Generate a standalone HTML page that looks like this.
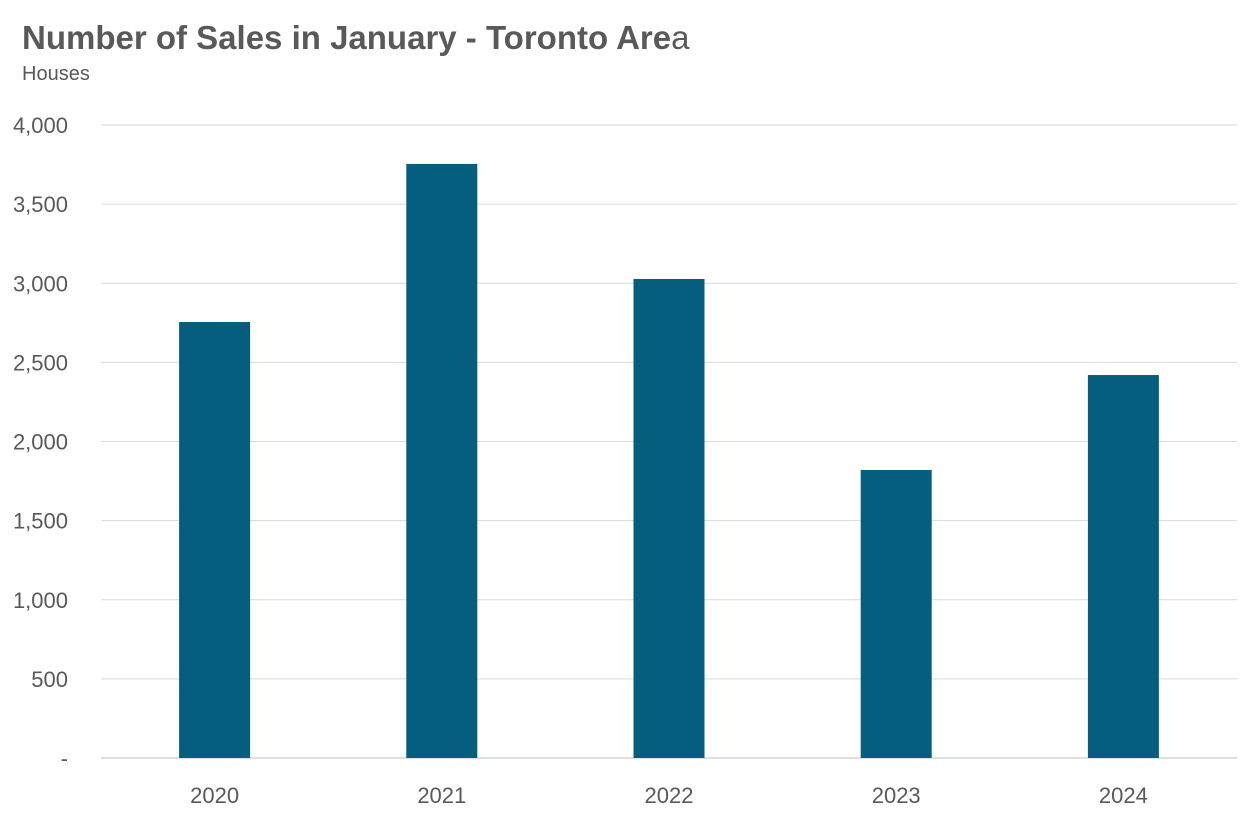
<!DOCTYPE html>
<html><head><meta charset="utf-8"><style>
body{margin:0;background:#fff;width:1249px;height:820px;overflow:hidden;font-family:"Liberation Sans",Arial,sans-serif;}
</style></head><body>
<svg width="1249" height="820" xmlns="http://www.w3.org/2000/svg">
<text x="22" y="49" font-size="33" font-weight="bold" fill="#595959">Number of Sales in January - Toronto Are<tspan font-weight="normal">a</tspan></text>
<text x="22" y="80" font-size="20" fill="#595959">Houses</text>
<g id="grid"></g>
<g id="bars"></g>
<g id="yticks"></g>
<g id="xticks"></g>
</svg>
<script>
const categories=["2020","2021","2022","2023","2024"];
const sales=[2755,3754,3027,1820,2420];
const yTicks=[0,500,1000,1500,2000,2500,3000,3500,4000];
const yTickLabels=["-","500","1,000","1,500","2,000","2,500","3,000","3,500","4,000"];
const NS="http://www.w3.org/2000/svg";
const x0=101,x1=1237,yTop=125,yBot=758,yMax=4000;
const y=v=>yBot-(v/yMax)*(yBot-yTop);
const bw=(x1-x0)/categories.length;
const xc=i=>x0+bw*(i+0.5);
function mk(tag,attrs,parent){const e=document.createElementNS(NS,tag);for(const k in attrs)e.setAttribute(k,attrs[k]);parent.appendChild(e);return e;}
const grid=document.getElementById('grid'),bars=document.getElementById('bars'),yt=document.getElementById('yticks'),xt=document.getElementById('xticks');
yTicks.forEach((v,i)=>{
 const l=mk('line',{x1:x0,x2:x1,y1:y(v),y2:y(v),stroke:v===0?'#bfbfbf':'#d9d9d9','stroke-width':1},grid);
 
 
 const t=mk('text',{x:68,y:y(v)+8,'text-anchor':'end','font-size':22,fill:'#595959'},yt);
 t.textContent=yTickLabels[i];
 
 
});
const barW=71;
sales.forEach((v,i)=>{
 const r=mk('rect',{x:xc(i)-barW/2,y:y(v),width:barW,height:yBot-y(v),fill:'#065e7f'},bars);
 
 
 const t=mk('text',{x:xc(i),y:803,'text-anchor':'middle','font-size':22,fill:'#595959'},xt);
 t.textContent=categories[i];
 
 
});
</script>
</body></html>
